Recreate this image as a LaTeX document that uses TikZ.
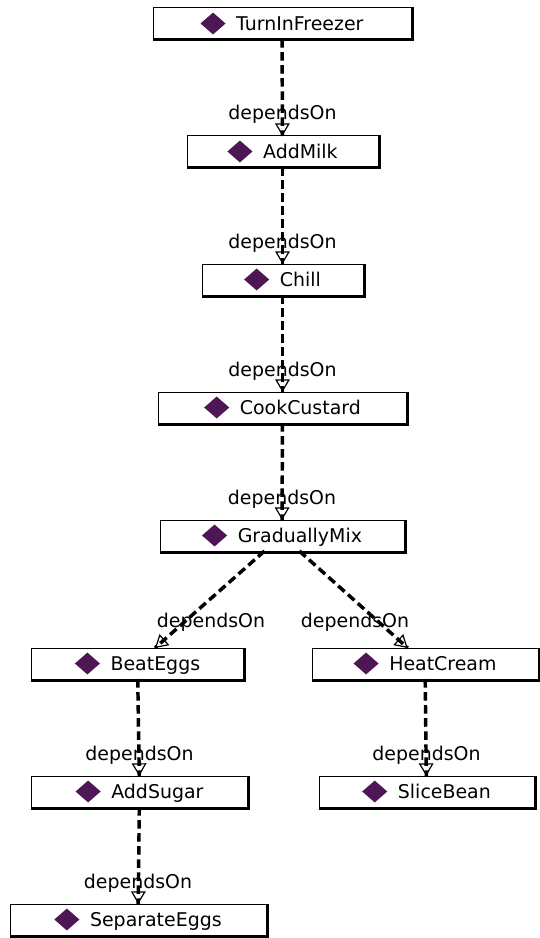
\documentclass[tikz,border=0pt]{standalone}
\usepackage{fontspec}
\setmainfont{DejaVu Sans}
\usetikzlibrary{arrows.meta,calc}
\definecolor{gem}{RGB}{78,22,84}
% purple diamond in front of every class name
\newcommand\gemmark{\tikz[baseline=-5.2pt]\fill[gem] (0pt,0pt) -- (9.4pt,8.2pt) -- (18.8pt,0pt) -- (9.4pt,-8.2pt) -- cycle;}

\begin{document}
\begin{tikzpicture}[x=0.75pt,y=-0.75pt,
  cls/.style={draw=black, line width=0.75pt, fill=white, inner sep=0pt, outer sep=0pt,
    minimum height=23.25pt, font=\fontsize{14.2pt}{17pt}\selectfont},
  w/.style={minimum width={#1*0.75pt}},
  rim/.style={line width=2.25pt, line join=miter},
  depline/.style={line width=2.6pt, dash pattern=on 6.4pt off 3.4pt},
  deptip/.style={line width=0.9pt, dash pattern=on 0pt off 10000pt,
    -{Triangle[open, length=9.5pt, width=11pt, line width=0.9pt]}},
  lbl/.style={font=\fontsize{14.2pt}{17pt}\selectfont, inner sep=0pt, anchor=base}]

\useasboundingbox (0,0) rectangle (539,938);
\fill[white] (0,0) rectangle (539,938);

% classes
\node[cls, w=258] (tif)   at (282,23.5)    {\gemmark\hspace{8pt}TurnInFreezer};
\node[cls, w=191] (milk)  at (282.5,151.5) {\gemmark\hspace{8pt}AddMilk};
\node[cls, w=161] (chill) at (282.5,279.5) {\gemmark\hspace{8pt}Chill};
\node[cls, w=248] (cook)  at (282.5,407.5) {\gemmark\hspace{8pt}CookCustard};
\node[cls, w=244] (mix)   at (282,535.5)   {\gemmark\hspace{8pt}GraduallyMix};
\node[cls, w=212] (beat)  at (137.5,663.5) {\gemmark\hspace{8pt}BeatEggs};
\node[cls, w=226] (heat)  at (425,663.5)   {\gemmark\hspace{8pt}HeatCream};
\node[cls, w=216] (sugar) at (139.5,791.5) {\gemmark\hspace{8pt}AddSugar};
\node[cls, w=215] (slice) at (426.5,791.5) {\gemmark\hspace{8pt}SliceBean};
\node[cls, w=256] (sep)   at (138,919.5)   {\gemmark\hspace{8pt}SeparateEggs};

% heavy bottom and right rims of the class boxes
\foreach \n in {tif,milk,chill,cook,mix,beat,heat,sugar,slice,sep}
  \draw[rim] ([xshift=-0.375pt,yshift=-0.75pt]\n.south west)
          -- ([xshift=0.75pt,yshift=-0.75pt]\n.south east)
          -- ([xshift=0.75pt,yshift=0.375pt]\n.north east);

% dependsOn relations
\foreach \a/\b in {tif/milk,milk/chill,chill/cook,cook/mix,mix/beat,mix/heat,beat/sugar,sugar/sep,heat/slice} {
  \draw[depline] (\a) -- (\b);
  \draw[deptip] (\a) -- (\b);
}

% relation labels
\foreach \b in {milk,chill,cook,mix,sugar,sep,slice}
  \node[lbl] (l-\b) at ($(\b.north)+(0,-16)$) {dependsOn};
\node[lbl] (l-beat) at (211,627) {dependsOn};
\node[lbl] (l-heat) at (355,627) {dependsOn};
\end{tikzpicture}
\end{document}
